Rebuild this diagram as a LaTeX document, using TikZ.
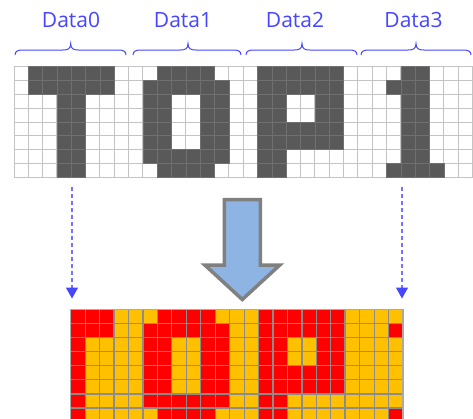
\documentclass[tikz,border=0pt]{standalone}
\usepackage{fontspec}
\setmainfont{Open Sans}
\usetikzlibrary{arrows.meta}
\definecolor{lblue}{RGB}{70,70,255}
\definecolor{dashblue}{RGB}{115,115,255}
\definecolor{darkcell}{RGB}{89,89,89}
\definecolor{darkline}{RGB}{112,112,112}
\definecolor{gridgray}{RGB}{196,196,196}
\definecolor{redcell}{RGB}{255,0,0}
\definecolor{orangecell}{RGB}{255,192,0}
\definecolor{botgrid}{RGB}{140,140,140}
\definecolor{botedge}{RGB}{170,170,170}
\definecolor{arrowfill}{RGB}{142,180,227}
\definecolor{arrowedge}{RGB}{128,128,128}
\tikzset{
  datalabel/.style={font=\fontsize{21}{25}\selectfont, text=lblue, anchor=base, inner sep=0pt},
  bracepath/.style={draw=lblue, line width=1pt},
  dasharrow/.style={draw=dashblue, line width=1.3pt, dash pattern=on 4pt off 3pt,
    -{Triangle[width=12pt,length=11pt,color=lblue]}},
  topgrid/.style={draw=gridgray, line width=1pt},
  darkpix/.style={fill=darkcell, draw=darkline, line width=0.8pt},
  redpix/.style={fill=redcell},
  botline/.style={draw=botgrid, line width=1.2pt},
  bigarrow/.style={fill=arrowfill, draw=arrowedge, line width=3.5pt, line join=miter}
}
\begin{document}
\begin{tikzpicture}[x=1pt,y=-1pt]
\clip (0,0) rectangle (473,418);
\fill[white] (0,0) rectangle (473,418);

% ---------- labels ----------
\node[datalabel] (d0) at (71,27.3) {Data0};
\node[datalabel] (d1) at (183,27.3) {Data1};
\node[datalabel] (d2) at (295,27.3) {Data2};
\node[datalabel] (d3) at (413.5,27.3) {Data3};

% ---------- braces ----------
\foreach \xa/\xb/\xc in {15/126/70.7, 133/241/188, 246/357/302, 361/471/416}{
  \draw[bracepath] (\xa,55) .. controls (\xa,51) and (\xa+3,50) .. (\xa+8,50)
    -- (\xc-8,50) .. controls (\xc-3,50) and (\xc,49) .. (\xc,43.5)
    .. controls (\xc,49) and (\xc+3,50) .. (\xc+8,50)
    -- (\xb-8,50) .. controls (\xb-3,50) and (\xb,51) .. (\xb,55);
}

% ---------- top grid ----------
\foreach \c in {0,...,32}
  \draw[topgrid] ({14+\c*14.33},66.7) -- ++(0,110.64);
\foreach \r in {0,...,8}
  \draw[topgrid] (14,{66.7+\r*13.83}) -- ++(458.56,0);
\foreach \r/\cs in {
  0/{1,2,3,4,5,6,10,11,12,13,17,18,19,20,21,22,27,28},
  1/{1,2,3,4,5,6,9,10,11,12,13,14,17,18,19,20,21,22,26,27,28},
  2/{3,4,9,10,13,14,17,18,21,22,27,28},
  3/{3,4,9,10,13,14,17,18,21,22,27,28},
  4/{3,4,9,10,13,14,17,18,19,20,21,22,27,28},
  5/{3,4,9,10,13,14,17,18,19,20,21,22,27,28},
  6/{3,4,9,10,11,12,13,14,17,18,27,28},
  7/{3,4,10,11,12,13,17,18,26,27,28,29}}{
  \foreach \c in \cs
    \draw[darkpix] ({14+\c*14.33},{66.7+\r*13.83}) rectangle ++(14.33,13.83);
}

% ---------- dashed arrows ----------
\coordinate (s0) at (72,187);
\coordinate (e0) at (72,298.5);
\coordinate (s1) at (402,187);
\coordinate (e1) at (402,298.5);
\draw[dasharrow] (s0) -- (e0);
\draw[dasharrow] (s1) -- (e1);

% ---------- big arrow ----------
\draw[bigarrow] (224.3,199.5) -- (260.3,199.5) -- (260.3,265) -- (279.8,265)
  -- (242.3,299.5) -- (204.8,265) -- (224.3,265) -- cycle;

% ---------- bottom grid ----------
\fill[orangecell] (70.7,309.3) rectangle ++(332.35,112.8);
\foreach \r/\cs in {
  0/{0,1,2,6,7,8,9,13,14,15,16,17,18},
  1/{0,1,2,5,6,7,8,9,10,13,14,15,16,17,18,22},
  2/{0,5,6,9,10,13,14,17,18},
  3/{0,5,6,9,10,13,14,17,18},
  4/{0,5,6,9,10,13,14,15,16,17,18},
  5/{0,5,6,9,10,13,14,15,16,17,18},
  6/{0,5,6,7,8,9,10,13,14},
  7/{0,6,7,8,9,13,14,22}}{
  \foreach \c in \cs
    \fill[redpix] ({70.7+\c*14.45},{309.3+\r*14.1}) rectangle ++(14.45,14.1);
}
\foreach \c in {1,...,22}
  \draw[botline] ({70.7+\c*14.45},309.3) -- ++(0,112.8);
\foreach \r in {1,...,7}
  \draw[botline] (70.7,{309.3+\r*14.1}) -- ++(332.35,0);
\draw[botgrid, line width=2.2pt] ({70.7+19*14.45},309.3) -- ++(0,112.8);
\draw[botedge, line width=1.2pt] (70.7,422.1) -- (70.7,309.3) -- (403.05,309.3) -- (403.05,422.1);
\end{tikzpicture}
\end{document}
